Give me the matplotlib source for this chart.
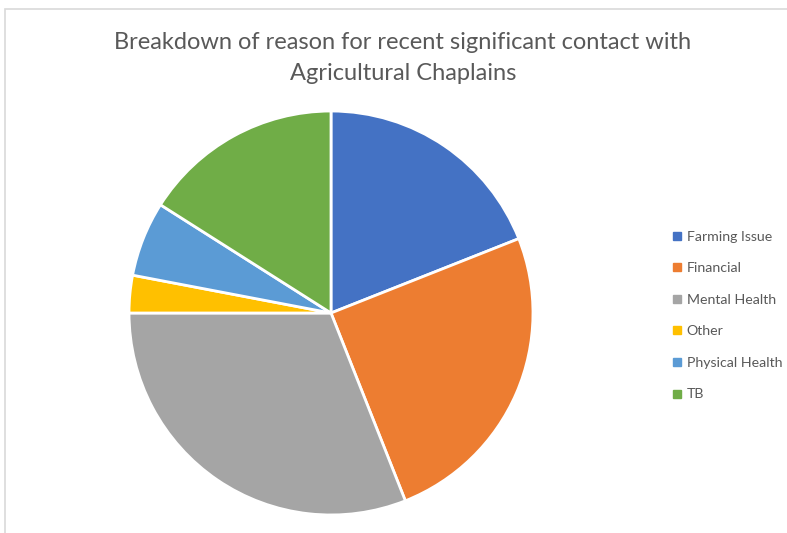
import matplotlib.pyplot as plt
from matplotlib.patches import Rectangle
from matplotlib.lines import Line2D

# dati (percentuali stimate)
categories = ['Farming Issue', 'Financial', 'Mental Health', 'Other', 'Physical Health', 'TB']
values = [19, 25, 31, 3, 6, 16]
colors = ['#4472C4', '#ED7D31', '#A5A5A5', '#FFC000', '#5B9BD5', '#70AD47']
title = 'Breakdown of reason for recent significant contact with\nAgricultural Chaplains'

plt.rcParams['font.family'] = ['Lato', 'DejaVu Sans']
fig = plt.figure(figsize=(7.87, 5.33), dpi=100)

# bordo del riquadro (solo lati sinistro e superiore visibili)
fig.add_artist(Rectangle((5 / 787, -0.1), 1.2, (533 - 9) / 533 + 0.1, transform=fig.transFigure,
                         fill=False, edgecolor='#D9D9D9', linewidth=1.2))

ax = fig.add_axes([127 / 787, 16 / 533, 408 / 787, 408 / 533])
ax.pie(values, colors=colors, startangle=90, counterclock=False,
       wedgeprops=dict(edgecolor='white', linewidth=2))
ax.set_xlim(-1.01, 1.01); ax.set_ylim(-1.01, 1.01)
ax.set_aspect('equal')

fig.text(403 / 787, 1 - 58 / 533, title, ha='center', va='center', fontsize=17,
         color='#595959', linespacing=1.6)

handles = [Line2D([], [], marker='s', linestyle='', markersize=5.5, color=c) for c in colors]
fig.legend(handles, categories, loc='upper left', bbox_to_anchor=(657 / 787, 1 - 218 / 533),
           frameon=False, fontsize=10.2, labelcolor='#595959', handletextpad=0.2,
           handlelength=1.0, labelspacing=1.38)

fig.savefig('out.png', dpi=100)
